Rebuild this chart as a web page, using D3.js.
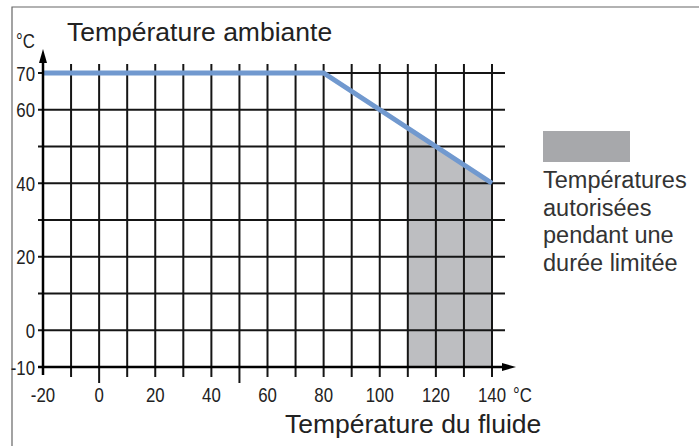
<!DOCTYPE html>
<html>
<head>
<meta charset="utf-8">
<script src="https://cdn.jsdelivr.net/npm/d3@7"></script>
<style>
  body { margin: 0; background: #fff; }
  text { font-family: "Liberation Sans", Arial, sans-serif; fill: #222; }
  .num { font-size: 21px; }
</style>
</head>
<body>
<div class="container"></div>
<script>
// data
const limitX = [-20, 80, 140];
const limitY = [70, 70, 40];
const shadeX = [110, 120, 130, 140];
const xTicks = [-20, 0, 20, 40, 60, 80, 100, 120, 140];
const yTicks = [70, 60, 40, 20, 0, -10];
const xGrid = d3.range(-10, 150, 10);
const yGrid = d3.range(0, 80, 10);
const legendLines = ["Températures", "autorisées", "pendant une", "durée limitée"];

const width = 699;
const height = 446;
const narrow = 0.8; // condensed digits

let svg = d3.select(".container").append("svg")
  .attr("width", width).attr("height", height);

// frame
svg.append("path")
  .attr("d", `M12,${height} L12,7 L${width},7`)
  .attr("fill", "none").attr("stroke", "#666").attr("stroke-width", 1.2);

let x = d3.scaleLinear([-20, 140], [43, 492]);
let y = d3.scaleLinear([-10, 70], [367, 73]);

const limitAt = (v) => {
  for (let i = 1; i < limitX.length; i++) {
    if (v <= limitX[i]) {
      let t = (v - limitX[i - 1]) / (limitX[i] - limitX[i - 1]);
      return limitY[i - 1] + t * (limitY[i] - limitY[i - 1]);
    }
  }
  return limitY[limitY.length - 1];
};

// shaded zone
let area = d3.area()
  .x((d) => x(d))
  .y0(y(-10))
  .y1((d) => y(limitAt(d)));
svg.append("path")
  .datum(shadeX)
  .attr("d", area)
  .attr("fill", "#bdbec1");

// grid
svg.append("g").selectAll("line")
  .data(yGrid).enter().append("line")
  .attr("x1", x(-20) - 5).attr("x2", x(140) + 13)
  .attr("y1", (d) => y(d)).attr("y2", (d) => y(d))
  .attr("stroke", "#151515").attr("stroke-width", 2);

svg.append("g").selectAll("line")
  .data(xGrid).enter().append("line")
  .attr("x1", (d) => x(d)).attr("x2", (d) => x(d))
  .attr("y1", y(70) - 9)
  .attr("y2", (d) => y(-10) + (d === 0 || d === 50 ? 16 : 10))
  .attr("stroke", "#151515").attr("stroke-width", 2);

// limit curve
svg.append("path")
  .datum(limitX.map((d, i) => [d, limitY[i]]))
  .attr("d", d3.line().x((d) => x(d[0])).y((d) => y(d[1])))
  .attr("fill", "none").attr("stroke", "#7199cf").attr("stroke-width", 5);

// axes with arrows
svg.append("line")
  .attr("x1", x(-20)).attr("x2", x(-20))
  .attr("y1", y(-10) + 8).attr("y2", 62)
  .attr("stroke", "#000").attr("stroke-width", 2.5);
svg.append("path")
  .attr("d", `M${x(-20)},49 L${x(-20) - 4},63 L${x(-20) + 4},63 Z`)
  .attr("fill", "#000");

svg.append("line")
  .attr("x1", x(-20) - 5).attr("x2", 503)
  .attr("y1", y(-10)).attr("y2", y(-10))
  .attr("stroke", "#000").attr("stroke-width", 2.5);
svg.append("path")
  .attr("d", `M516,${y(-10)} L502,${y(-10) - 4} L502,${y(-10) + 4} Z`)
  .attr("fill", "#000");

// tick labels
svg.append("g").selectAll("text")
  .data(yTicks).enter().append("text")
  .attr("class", "num")
  .attr("transform", (d) => `translate(35,${y(d) + 7.5}) scale(${narrow},1)`)
  .attr("text-anchor", "end")
  .text((d) => d);

svg.append("g").selectAll("text")
  .data(xTicks).enter().append("text")
  .attr("class", "num")
  .attr("transform", (d) => `translate(${x(d)},402) scale(${narrow},1)`)
  .attr("text-anchor", "middle")
  .text((d) => d);

svg.append("text").attr("class", "num")
  .attr("transform", `translate(16,48) scale(${narrow},1)`).text("°C");
svg.append("text").attr("class", "num")
  .attr("transform", `translate(513,402) scale(${narrow},1)`).text("°C");

// titles
svg.append("text")
  .attr("x", 67).attr("y", 41)
  .style("font-size", "26.5px")
  .text("Température ambiante");
svg.append("text")
  .attr("x", 285).attr("y", 433)
  .style("font-size", "26.5px")
  .text("Température du fluide");

// legend
svg.append("rect")
  .attr("x", 543).attr("y", 131).attr("width", 87).attr("height", 31)
  .attr("fill", "#a7a8ab");
svg.append("g").selectAll("text")
  .data(legendLines).enter().append("text")
  .attr("x", 543).attr("y", (d, i) => 188 + i * 27.5)
  .style("font-size", "23.5px")
  .style("fill", "#333")
  .text((d) => d);
</script>
</body>
</html>
